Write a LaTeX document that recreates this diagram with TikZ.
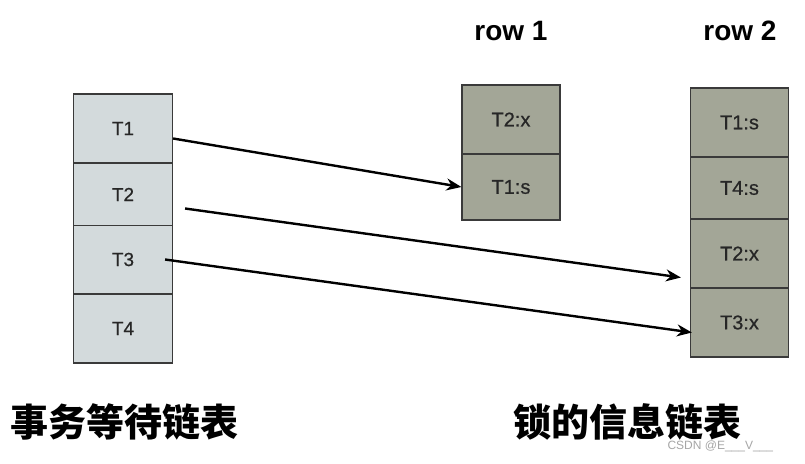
\documentclass[tikz,border=0pt]{standalone}
\usepackage{fontspec}
\setmainfont{Liberation Sans}
\newfontfamily\medfont[FakeBold=0.6]{Liberation Sans}
\newfontfamily\cjk{Noto Sans CJK SC}
\usetikzlibrary{calc,arrows.meta}
\definecolor{txfill}{HTML}{D3DADC}
\definecolor{lkfill}{HTML}{A3A697}
\definecolor{edgec}{HTML}{3A3A3A}
\tikzset{
  txcell/.style={draw=edgec, line width=1.2pt, fill=txfill, minimum width=99pt, inner sep=0pt, font=\medfont\fontsize{19}{21}\selectfont, text=black!85},
  lkcell/.style={draw=edgec, line width=1.2pt, fill=lkfill, minimum width=98pt, inner sep=0pt, font=\medfont\fontsize{20}{22}\selectfont, text=black!85},
  hdr/.style={font=\fontsize{28}{30}\selectfont\bfseries},
  captext/.style={font=\cjk\bfseries\fontsize{38}{42}\selectfont},
  link/.style={line width=2.4pt, -{Stealth[length=15pt,width=12pt]}}
}
\begin{document}
\begin{tikzpicture}[x=1pt,y=-1pt]
\useasboundingbox (0,0) rectangle (805,463);
% left stack
\node[txcell, minimum height=69pt] (t1) at (123,128.5) {T1};
\node[txcell, minimum height=62pt] (t2) at (123,194.5) {T2};
\node[txcell, minimum height=68pt] (t3) at (123,259.5) {T3};
\node[txcell, minimum height=69pt] (t4) at (123,328.5) {T4};
% row 1
\node[hdr] (h1) at (511,31) {row 1};
\node[lkcell, minimum height=69pt] (a1) at (511,119.5) {T2:x};
\node[lkcell, minimum height=66pt] (a2) at (511,187) {T1:s};
% row 2
\node[hdr] (h2) at (740,31) {row 2};
\node[lkcell, minimum height=69pt] (b1) at (739.5,122.5) {T1:s};
\node[lkcell, minimum height=62pt] (b2) at (739.5,188) {T4:s};
\node[lkcell, minimum height=69pt] (b3) at (739.5,253.5) {T2:x};
\node[lkcell, minimum height=69pt] (b4) at (739.5,322.5) {T3:x};
% arrows
\draw[link] ($(t1.east)+(0,10)$) -- (a2.west);
\draw[link] ($(t2.east)+(12,14)$) -- ($(b3.west)+(-9,24)$);
\draw[link] ($(t3.east)+(-8,0)$) -- ($(b4.west)+(2,10)$);
% captions
\node[captext] (c1) at (124,422) {事务等待链表};
\node[captext] (c2) at (627,422) {锁的信息链表};
\node[font=\fontsize{12}{14}\selectfont, text=black!35, anchor=west] (wm) at (664,446) {CSDN @E\_\_\_V\_\_\_};
\end{tikzpicture}
\end{document}
